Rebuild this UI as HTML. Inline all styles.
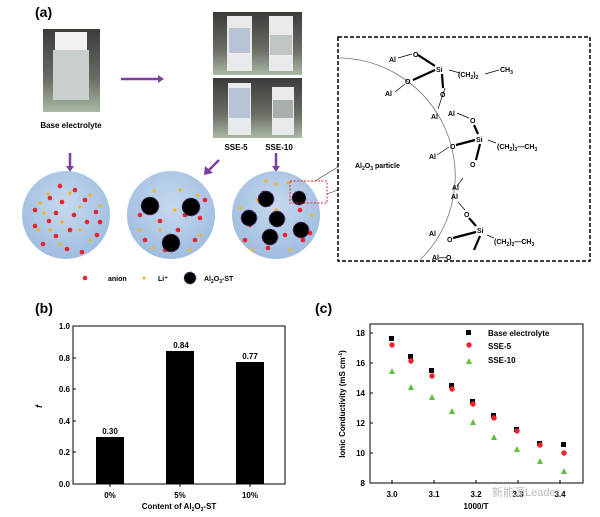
<!DOCTYPE html>
<html><head><meta charset="utf-8"><style>
body{margin:0;background:#fff}
svg{display:block;font-family:"Liberation Sans",Arial,sans-serif;font-weight:bold}
</style></head><body>
<svg width="600" height="517" viewBox="0 0 600 517">
<defs>
<linearGradient id="ph" x1="0" y1="0" x2="0" y2="1"><stop offset="0" stop-color="#3a3c38"/><stop offset="0.6" stop-color="#6a6d66"/><stop offset="1" stop-color="#a9b9a4"/></linearGradient>
<radialGradient id="cg" cx="0.5" cy="0.4" r="0.6"><stop offset="0" stop-color="#c6d9ee"/><stop offset="1" stop-color="#9fbde0"/></radialGradient>
</defs>
<text x="35" y="17" font-size="14">(a)</text>
<!-- photos -->
<rect x="43" y="29" width="57" height="83" fill="url(#ph)"/>
<rect x="55" y="32" width="32" height="18" fill="#f2f2f2"/>
<rect x="53" y="50" width="36" height="50" fill="#c9cfcc"/>
<rect x="213" y="12" width="89" height="63" fill="url(#ph)"/>
<rect x="227" y="16" width="25" height="55" fill="#e8eaec"/><rect x="229" y="28" width="21" height="25" fill="#b8c4d4"/>
<rect x="269" y="16" width="24" height="55" fill="#e8eaec"/><rect x="270" y="35" width="22" height="20" fill="#bfc4c4"/>
<rect x="213" y="78" width="89" height="60" fill="url(#ph)"/>
<rect x="228" y="83" width="23" height="52" fill="#e8eaec"/><rect x="229" y="88" width="21" height="30" fill="#b8c4d4"/>
<rect x="272" y="87" width="22" height="48" fill="#e8eaec"/><rect x="273" y="100" width="20" height="18" fill="#a8aeae"/>
<text x="71" y="128" font-size="8" text-anchor="middle">Base electrolyte</text>
<text x="236" y="150" font-size="8" text-anchor="middle">SSE-5</text>
<text x="279" y="150" font-size="8" text-anchor="middle">SSE-10</text>
<!-- arrows -->
<g stroke="#7b3f9e" stroke-width="2.5" fill="#7b3f9e">
<line x1="121" y1="79" x2="158" y2="79"/><polygon points="158,75 164,79 158,83" stroke="none"/>
<line x1="70" y1="153" x2="70" y2="166"/><polygon points="66,166 70,172 74,166" stroke="none"/>
<line x1="219" y1="160" x2="209" y2="170"/><polygon points="205,166 204,175 213,173" stroke="none"/>
<line x1="276" y1="153" x2="276" y2="166"/><polygon points="272,166 276,172 280,166" stroke="none"/>
</g>
<!-- circles -->
<circle cx="66" cy="215" r="44" fill="url(#cg)"/>
<circle cx="171" cy="215" r="44" fill="url(#cg)"/>
<circle cx="276" cy="215" r="44" fill="url(#cg)"/>
<g fill="#e8232a">
<circle cx="60" cy="186" r="2.3"/><circle cx="75" cy="190" r="2.3"/><circle cx="50" cy="198" r="2.3"/><circle cx="62" cy="202" r="2.3"/><circle cx="85" cy="200" r="2.3"/><circle cx="35" cy="210" r="2.3"/><circle cx="56" cy="213" r="2.3"/><circle cx="96" cy="212" r="2.3"/><circle cx="49" cy="221" r="2.3"/><circle cx="70" cy="230" r="2.3"/><circle cx="87" cy="222" r="2.3"/><circle cx="35" cy="226" r="2.3"/><circle cx="56" cy="236" r="2.3"/><circle cx="43" cy="244" r="2.3"/><circle cx="82" cy="252" r="2.3"/><circle cx="67" cy="249" r="2.3"/><circle cx="97" cy="235" r="2.3"/><circle cx="100" cy="222" r="2.3"/><circle cx="74" cy="215" r="2.3"/>
<circle cx="140" cy="215" r="2.3"/><circle cx="160" cy="221" r="2.3"/><circle cx="185" cy="215" r="2.3"/><circle cx="200" cy="218" r="2.3"/><circle cx="195" cy="240" r="2.3"/><circle cx="150" cy="202" r="2.3"/><circle cx="165" cy="250" r="2.3"/><circle cx="145" cy="240" r="2.3"/><circle cx="205" cy="200" r="2.3"/><circle cx="178" cy="230" r="2.3"/>
<circle cx="263" cy="193" r="2.3"/><circle cx="300" cy="210" r="2.3"/><circle cx="250" cy="225" r="2.3"/><circle cx="285" cy="235" r="2.3"/><circle cx="268" cy="248" r="2.3"/><circle cx="303" cy="240" r="2.3"/><circle cx="245" cy="240" r="2.3"/><circle cx="310" cy="233" r="2.3"/>
<circle cx="85" cy="278" r="2.3"/>
</g>
<g fill="#f2b61a">
<circle cx="48" cy="194" r="1.6"/><circle cx="70" cy="193" r="1.6"/><circle cx="90" cy="195" r="1.6"/><circle cx="40" cy="203" r="1.6"/><circle cx="80" cy="207" r="1.6"/><circle cx="44" cy="213" r="1.6"/><circle cx="62" cy="222" r="1.6"/><circle cx="80" cy="230" r="1.6"/><circle cx="38" cy="230" r="1.6"/><circle cx="60" cy="244" r="1.6"/><circle cx="90" cy="240" r="1.6"/><circle cx="100" cy="206" r="1.6"/><circle cx="50" cy="230" r="1.6"/>
<circle cx="154" cy="191" r="1.6"/><circle cx="180" cy="190" r="1.6"/><circle cx="198" cy="195" r="1.6"/><circle cx="160" cy="230" r="1.6"/><circle cx="140" cy="230" r="1.6"/><circle cx="200" cy="235" r="1.6"/><circle cx="190" cy="250" r="1.6"/><circle cx="175" cy="210" r="1.6"/><circle cx="153" cy="248" r="1.6"/>
<circle cx="266" cy="181" r="1.6"/><circle cx="276" cy="184" r="1.6"/><circle cx="288" cy="183" r="1.6"/><circle cx="240" cy="208" r="1.6"/><circle cx="257" cy="200" r="1.6"/><circle cx="312" cy="215" r="1.6"/><circle cx="252" cy="250" r="1.6"/><circle cx="290" cy="250" r="1.6"/><circle cx="276" cy="210" r="1.6"/>
<circle cx="144" cy="278" r="1.6"/>
</g>
<g fill="#000" stroke="#7b4fa8" stroke-width="1" stroke-dasharray="2 2">
<circle cx="150" cy="206" r="9"/><circle cx="191" cy="207" r="9"/><circle cx="171" cy="243" r="9"/>
<circle cx="266" cy="199" r="8"/><circle cx="299" cy="198" r="7"/><circle cx="249" cy="218" r="8"/><circle cx="277" cy="219" r="8"/><circle cx="301" cy="230" r="8"/><circle cx="270" cy="237" r="8"/>
<circle cx="190" cy="278" r="6"/>
</g>
<rect x="290" y="181" width="37" height="22" fill="none" stroke="#e8232a" stroke-width="1" stroke-dasharray="2 1.5"/>
<line x1="315" y1="181" x2="338" y2="167" stroke="#333" stroke-width="0.6"/>
<line x1="327" y1="194" x2="338" y2="190" stroke="#333" stroke-width="0.6"/>
<text x="108" y="281" font-size="7">anion</text>
<text x="158" y="281" font-size="7">Li⁺</text>
<text x="204" y="281" font-size="7">Al<tspan font-size="5" dy="2">2</tspan><tspan dy="-2">O</tspan><tspan font-size="5" dy="2">3</tspan><tspan dy="-2">-ST</tspan></text>
<!-- dashed box -->
<rect x="338" y="37" width="252" height="224" fill="none" stroke="#000" stroke-width="1.5" stroke-dasharray="4 2"/>
<path d="M338,58 A118,118 0 0 1 420,260" fill="none" stroke="#777" stroke-width="0.8"/>
<g font-size="7" fill="#000">
<text x="389" y="62">Al</text><text x="413" y="57">O</text><text x="436" y="72">Si</text><text x="458" y="77">(CH<tspan font-size="5" dy="2">2</tspan><tspan dy="-2">)</tspan><tspan font-size="5" dy="2">2</tspan></text><text x="500" y="72">CH<tspan font-size="5" dy="2">3</tspan></text>
<text x="405" y="84">O</text><text x="385" y="96">Al</text><text x="440" y="97">O</text>
<text x="431" y="119">Al</text><text x="448" y="116">Al</text><text x="470" y="123">O</text><text x="476" y="142">Si</text><text x="497" y="149">(CH<tspan font-size="5" dy="2">2</tspan><tspan dy="-2">)</tspan><tspan font-size="5" dy="2">2</tspan><tspan dy="-2">—CH</tspan><tspan font-size="5" dy="2">3</tspan></text>
<text x="450" y="149">O</text><text x="429" y="159">Al</text><text x="470" y="167">O</text>
<text x="355" y="168">Al<tspan font-size="5" dy="2">2</tspan><tspan dy="-2">O</tspan><tspan font-size="5" dy="2">3</tspan><tspan dy="-2">   particle</tspan></text>
<text x="452" y="190">Al</text><text x="451" y="199">Al</text><text x="464" y="217">O</text><text x="477" y="233">Si</text><text x="429" y="236">Al</text><text x="447" y="242">O</text>
<text x="494" y="244">(CH<tspan font-size="5" dy="2">2</tspan><tspan dy="-2">)</tspan><tspan font-size="5" dy="2">2</tspan><tspan dy="-2">—CH</tspan><tspan font-size="5" dy="2">3</tspan></text>
<text x="432" y="260">Al—O</text>
</g>
<g stroke="#000" stroke-width="0.7" fill="none">
<line x1="398" y1="58" x2="412" y2="54"/><line x1="395" y1="92" x2="405" y2="84"/><line x1="449" y1="70" x2="460" y2="73"/><line x1="485" y1="74" x2="499" y2="70"/>
<line x1="445" y1="88" x2="438" y2="109"/><line x1="457" y1="113" x2="469" y2="118"/><line x1="488" y1="140" x2="496" y2="143"/>
<line x1="437" y1="155" x2="449" y2="147"/><line x1="457" y1="186" x2="463" y2="178"/><line x1="458" y1="202" x2="465" y2="210"/><line x1="487" y1="235" x2="494" y2="238"/>
</g>
<g stroke="#000" stroke-width="2.2">
<line x1="418" y1="55" x2="435" y2="66"/><line x1="413" y1="80" x2="435" y2="70"/><line x1="442" y1="74" x2="443" y2="88"/>
<line x1="474" y1="125" x2="478" y2="134"/><line x1="456" y1="145" x2="475" y2="140"/><line x1="480" y1="144" x2="476" y2="160"/>
<line x1="469" y1="218" x2="476" y2="226"/><line x1="453" y1="238" x2="476" y2="232"/><line x1="480" y1="236" x2="474" y2="250"/>
</g>
<!-- (b) -->
<text x="35" y="313" font-size="14">(b)</text>
<g font-size="8" text-anchor="end">
<text x="70" y="329">1.0</text><text x="70" y="361">0.8</text><text x="70" y="392">0.6</text><text x="70" y="424">0.4</text><text x="70" y="455">0.2</text><text x="70" y="487">0.0</text>
</g>
<g stroke="#000" stroke-width="1">
<line x1="73" y1="358" x2="76" y2="358"/><line x1="73" y1="389" x2="76" y2="389"/><line x1="73" y1="421" x2="76" y2="421"/><line x1="73" y1="452" x2="76" y2="452"/>
<line x1="110" y1="484" x2="110" y2="487"/><line x1="180" y1="484" x2="180" y2="487"/><line x1="250" y1="484" x2="250" y2="487"/>
</g>
<rect x="96" y="437" width="28" height="47" fill="#000"/>
<rect x="166" y="351" width="28" height="133" fill="#000"/>
<rect x="236" y="362" width="28" height="122" fill="#000"/>
<rect x="73" y="326" width="212" height="158" fill="none" stroke="#000" stroke-width="1"/>
<g font-size="8" text-anchor="middle">
<text x="110" y="434">0.30</text><text x="181" y="348">0.84</text><text x="250" y="359">0.77</text>
<text x="110" y="498">0%</text><text x="180" y="498">5%</text><text x="250" y="498">10%</text>
<text x="179" y="509">Content of Al<tspan font-size="5" dy="2">2</tspan><tspan dy="-2">O</tspan><tspan font-size="5" dy="2">3</tspan><tspan dy="-2">-ST</tspan></text>
</g>
<text x="42" y="408" font-size="9" font-style="italic" transform="rotate(-90 42 408)">f</text>
<!-- (c) -->
<text x="315" y="313" font-size="14">(c)</text>
<rect x="370" y="324" width="213" height="159" fill="none" stroke="#000" stroke-width="1"/>
<g font-size="8" text-anchor="end">
<text x="365" y="336">18</text><text x="365" y="366">16</text><text x="365" y="396">14</text><text x="365" y="426">12</text><text x="365" y="456">10</text><text x="365" y="486">8</text>
</g>
<g font-size="8" text-anchor="middle">
<text x="392" y="497">3.0</text><text x="434" y="497">3.1</text><text x="476" y="497">3.2</text><text x="518" y="497">3.3</text><text x="560" y="497">3.4</text>
<text x="476" y="509">1000/T</text>
</g>
<text x="345" y="404" font-size="8" text-anchor="middle" transform="rotate(-90 345 404)">Ionic Conductivity (mS cm<tspan font-size="5" dy="-3">-1</tspan><tspan dy="3">)</tspan></text>
<g stroke="#000" stroke-width="1">
<line x1="392" y1="483" x2="392" y2="480"/><line x1="434" y1="483" x2="434" y2="480"/><line x1="476" y1="483" x2="476" y2="480"/><line x1="518" y1="483" x2="518" y2="480"/><line x1="560" y1="483" x2="560" y2="480"/>
<line x1="370" y1="333" x2="373" y2="333"/><line x1="370" y1="363" x2="373" y2="363"/><line x1="370" y1="393" x2="373" y2="393"/><line x1="370" y1="423" x2="373" y2="423"/><line x1="370" y1="453" x2="373" y2="453"/>
</g>
<g fill="#000">
<rect x="389" y="336" width="5" height="5"/><rect x="408" y="354" width="5" height="5"/><rect x="429" y="368" width="5" height="5"/><rect x="449" y="383" width="5" height="5"/><rect x="470" y="399" width="5" height="5"/><rect x="491" y="413" width="5" height="5"/><rect x="514" y="427" width="5" height="5"/><rect x="537" y="441" width="5" height="5"/><rect x="561" y="442" width="5" height="5"/>
<rect x="466" y="330" width="5" height="5"/>
</g>
<g fill="#e8232a">
<circle cx="392" cy="345" r="2.7"/><circle cx="411" cy="361" r="2.7"/><circle cx="432" cy="376" r="2.7"/><circle cx="452" cy="389" r="2.7"/><circle cx="473" cy="404" r="2.7"/><circle cx="494" cy="418" r="2.7"/><circle cx="517" cy="431" r="2.7"/><circle cx="540" cy="445" r="2.7"/><circle cx="564" cy="453" r="2.7"/>
<circle cx="469" cy="345" r="2.7"/>
</g>
<g fill="#5fbf3f">
<polygon points="392,368 395,374 389,374"/><polygon points="411,384 414,390 408,390"/><polygon points="432,394 435,400 429,400"/><polygon points="452,408 455,414 449,414"/><polygon points="473,419 476,425 470,425"/><polygon points="494,434 497,440 491,440"/><polygon points="517,446 520,452 514,452"/><polygon points="540,458 543,464 537,464"/><polygon points="564,468 567,474 561,474"/>
<polygon points="469,358 472,364 466,364"/>
</g>
<g font-size="8">
<text x="488" y="336">Base electrolyte</text><text x="488" y="349">SSE-5</text><text x="488" y="363">SSE-10</text>
</g>
<text x="492" y="496" font-size="11" fill="#bbb" font-weight="normal" font-family="'Liberation Sans','Noto Sans CJK SC',sans-serif">新能源Leader</text>
</svg>
</body></html>
